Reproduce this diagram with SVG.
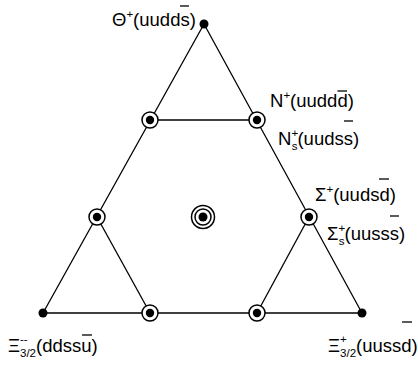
<svg xmlns="http://www.w3.org/2000/svg" width="418" height="366" viewBox="0 0 418 366">
<style>
.e{stroke:#000;stroke-width:1.3;fill:none}
.b{stroke:#000;stroke-width:1.3}
.r{fill:#fff;stroke:#000;stroke-width:1.5}
.d{fill:#000}
text{font-family:"Liberation Sans",Arial,sans-serif;font-size:18.5px;fill:#000}
.s{font-size:11.5px}
</style>
<rect width="418" height="366" fill="#fff"/>
<g id="connectors">
<polygon class="e" points="204,24 43,313 362,313"/>
<line class="e" x1="150" y1="120" x2="257" y2="120"/>
<line class="e" x1="97" y1="217" x2="150" y2="313"/>
<line class="e" x1="309" y1="217" x2="257" y2="313"/>
</g>
<g id="theta"><circle class="d" cx="204" cy="24" r="4.5"/>
<text x="112" y="26">Θ<tspan class="s" dy="-8">+</tspan><tspan dy="8">(uudds)</tspan></text>
<line class="b" x1="180" y1="6" x2="189" y2="6"/></g>
<g id="xi_mm"><circle class="d" cx="43" cy="313" r="4.5"/>
<text x="8" y="352">Ξ<tspan class="s" dy="-9">--</tspan><tspan class="s" dx="-7.7" dy="14">3/2</tspan><tspan dy="-5">(ddssu)</tspan></text>
<line class="b" x1="82" y1="335" x2="92" y2="335"/></g>
<g id="xi_p"><circle class="d" cx="362" cy="313" r="4.5"/>
<text x="328" y="352">Ξ<tspan class="s" dy="-9">+</tspan><tspan class="s" dx="-6.7" dy="14">3/2</tspan><tspan dy="-5">(uussd)</tspan></text>
<line class="b" x1="402" y1="322" x2="412" y2="322"/></g>
<g id="n_upper_left"><circle class="r" cx="150" cy="120" r="8"/><circle class="d" cx="150" cy="120" r="4.2"/></g>
<g id="n_upper_right"><circle class="r" cx="257" cy="120" r="8"/><circle class="d" cx="257" cy="120" r="4.2"/>
<text x="270" y="107">N<tspan class="s" dy="-8">+</tspan><tspan dy="8">(uuddd)</tspan></text>
<line class="b" x1="337.5" y1="91" x2="347" y2="91"/>
<text x="278" y="145">N<tspan class="s" dy="-8">+</tspan><tspan class="s" dx="-6.4" dy="13">s</tspan><tspan dy="-5">(uudss)</tspan></text>
<line class="b" x1="344" y1="121" x2="353" y2="121"/></g>
<g id="n_mid_left"><circle class="r" cx="97" cy="217" r="8"/><circle class="d" cx="97" cy="217" r="4.2"/></g>
<g id="n_mid_right"><circle class="r" cx="309" cy="217" r="8"/><circle class="d" cx="309" cy="217" r="4.2"/>
<text x="315" y="201">Σ<tspan class="s" dy="-8">+</tspan><tspan dy="8">(uudsd)</tspan></text>
<line class="b" x1="379" y1="179" x2="389" y2="179"/>
<text x="327" y="240">Σ<tspan class="s" dy="-8">+</tspan><tspan class="s" dx="-6.4" dy="13">s</tspan><tspan dy="-5">(uusss)</tspan></text>
<line class="b" x1="390" y1="216" x2="399" y2="216"/></g>
<g id="n_bottom_left"><circle class="r" cx="150" cy="313" r="8"/><circle class="d" cx="150" cy="313" r="4.2"/></g>
<g id="n_bottom_right"><circle class="r" cx="257" cy="313" r="8"/><circle class="d" cx="257" cy="313" r="4.2"/></g>
<g id="center"><circle class="r" cx="203" cy="217" r="11.5"/><circle class="r" cx="203" cy="217" r="8"/><circle class="d" cx="203" cy="217" r="4.5"/></g>
</svg>
